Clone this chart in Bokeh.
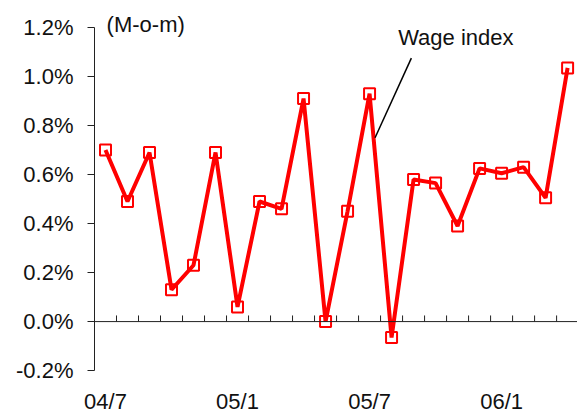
import numpy as np
from bokeh.plotting import figure
from bokeh.models import Range1d, LinearAxis, FixedTicker, PrintfTickFormatter, Label, Span
from bokeh.embed import file_html
from bokeh.resources import INLINE

# ---- data ----
months = ["04/7", "04/8", "04/9", "04/10", "04/11", "04/12",
          "05/1", "05/2", "05/3", "05/4", "05/5", "05/6",
          "05/7", "05/8", "05/9", "05/10", "05/11", "05/12",
          "06/1", "06/2", "06/3", "06/4"]
wage_mom = [0.70, 0.49, 0.69, 0.13, 0.23, 0.69,
            0.06, 0.49, 0.46, 0.91, 0.00, 0.45,
            0.93, -0.065, 0.58, 0.565, 0.39, 0.625,
            0.605, 0.63, 0.505, 1.035]
label_months = ["04/7", "05/1", "05/7", "06/1"]
y_ticks = [-0.2, 0.0, 0.2, 0.4, 0.6, 0.8, 1.0, 1.2]

FONT = "Liberation Sans"
FS = "22px"
RED = "#ff0000"
AX = "#222222"
TXT = "#111111"

x = list(range(len(months)))
label_idx = [months.index(m) for m in label_months]
boundaries = [i + 0.5 for i in x]
tick_len = 0.025

p = figure(width=577, height=416, output_backend="svg", toolbar_location=None,
           x_range=Range1d(-0.5, 21.45), y_range=Range1d(-0.273, 1.31),
           x_axis_location=None, y_axis_location=None,
           min_border_left=94, min_border_right=0, min_border_top=0, min_border_bottom=0)
p.outline_line_color = None
p.grid.visible = False
p.background_fill_color = "white"

# y axis
yax = LinearAxis(ticker=FixedTicker(ticks=y_ticks), bounds=(y_ticks[0], y_ticks[-1]),
                 formatter=PrintfTickFormatter(format="%.1f%%"))
yax.axis_line_color = AX
yax.major_tick_line_color = AX
yax.major_tick_in = 0
yax.major_tick_out = 7
yax.minor_tick_line_color = None
yax.major_label_standoff = 14
yax.major_label_text_font = FONT
yax.major_label_text_font_size = FS
yax.major_label_text_color = TXT
p.add_layout(yax, "left")

# bottom labels
xlab = LinearAxis(ticker=FixedTicker(ticks=label_idx),
                  major_label_overrides={i: months[i] for i in label_idx})
xlab.axis_line_color = None
xlab.major_tick_line_color = None
xlab.minor_tick_line_color = None
xlab.major_tick_in = 0
xlab.major_tick_out = 0
xlab.major_label_standoff = 0
xlab.major_label_text_font = FONT
xlab.major_label_text_font_size = FS
xlab.major_label_text_color = TXT
p.add_layout(xlab, "below")

# zero line with category boundary ticks
p.add_layout(Span(location=0, dimension="width", line_color=AX, line_width=1))
p.segment(x0=boundaries, y0=[0] * len(boundaries), x1=boundaries,
          y1=[tick_len] * len(boundaries), line_color=AX, line_width=1)

# series
p.line(x, wage_mom, line_color=RED, line_width=4)
p.scatter(x, wage_mom, marker="square", size=11, line_color=RED, line_width=2,
          fill_color=None)

# annotations
p.add_layout(Label(x=0.05, y=1.212, text="(M-o-m)", text_baseline="middle",
                   text_font=FONT, text_font_size=FS, text_color=TXT))
p.add_layout(Label(x=13.3, y=1.16, text="Wage index", text_baseline="middle",
                   text_font=FONT, text_font_size=FS, text_color=TXT))
p.segment(x0=[13.9], y0=[1.075], x1=[12.25], y1=[0.75], line_color="black", line_width=1.5)

open("out.html", "w").write(file_html(p, INLINE))
